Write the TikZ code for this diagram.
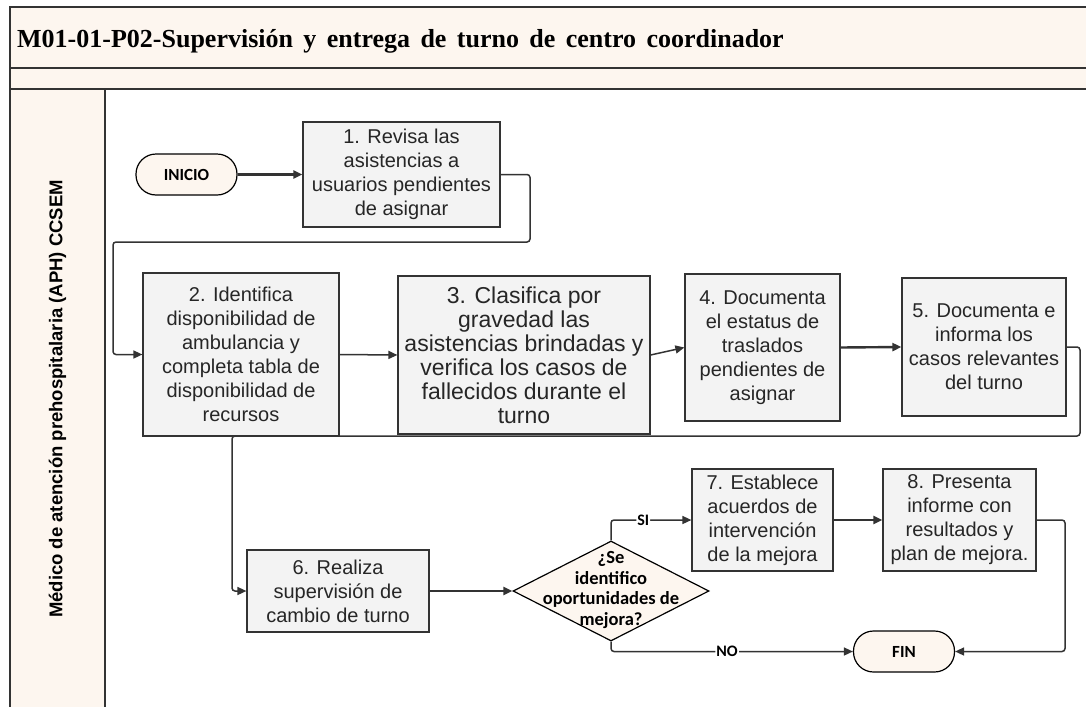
\documentclass[tikz,border=0pt]{standalone}
\usepackage{fontspec}
\setmainfont{Liberation Sans}
\newfontfamily\titlefont[WordSpace=1.6]{Liberation Serif}
\newfontfamily\calib{Carlito}
\usetikzlibrary{arrows.meta,shapes.geometric}
\definecolor{cream}{HTML}{FDF6EF}
\definecolor{boxfill}{HTML}{F3F3F3}
\definecolor{linec}{HTML}{333333}
\begin{document}
\begin{tikzpicture}[x=1pt,y=-1pt,
  stepbox/.style={draw=linec, line width=1.2pt, fill=boxfill, align=center,
    font=\fontsize{20}{24}\selectfont, text=black!85, inner sep=0pt},
  term/.style={draw=black, line width=1.2pt, fill=cream, rounded corners=20pt,
    font=\calib\bfseries\fontsize{17}{18}\selectfont, inner sep=0pt,
    minimum width=101pt, minimum height=41pt},
  conn/.style={draw=linec, line width=1.5pt, -{Triangle[length=9pt,width=8pt]}, rounded corners=3pt},
  thickconn/.style={conn, line width=2.4pt},
  lbl/.style={fill=white, font=\calib\bfseries\fontsize{16}{16}\selectfont, inner sep=1pt},
  frameline/.style={draw=linec, line width=1.2pt}
]
\useasboundingbox (0,0) rectangle (1086,707);
% bands
\fill[cream] (10,7) rectangle (1086,89);
\fill[cream] (10,89) rectangle (105,707);
\draw[frameline] (1086,7) -- (10,7) -- (10,707);
\draw[frameline] (10,68) -- (1086,68);
\draw[frameline] (10,89) -- (1086,89);
\draw[frameline] (105,89) -- (105,707);
\node[anchor=base west, font=\titlefont\bfseries\fontsize{26}{30}\selectfont, inner sep=0pt] (title) at (17,47)
  {M01-01-P02-Supervisión y entrega de turno de centro coordinador};
\node[rotate=90, font=\bfseries\fontsize{18.5}{20}\selectfont, inner sep=0pt] (lane) at (57.5,399)
  {Médico de atención prehospitalaria (APH) CCSEM};
% nodes
\node[term] (inicio) at (186.5,174.5) {INICIO};
\node[stepbox, minimum width=197pt, minimum height=105pt] (b1) at (401.5,174.5)
  {1. Revisa las\\asistencias a\\usuarios pendientes\\de asignar};
\node[stepbox, minimum width=196pt, minimum height=163pt] (b2) at (241,354.5)
  {2. Identifica\\disponibilidad de\\ambulancia y\\completa tabla de\\disponibilidad de\\recursos};
\node[stepbox, minimum width=252pt, minimum height=158pt, font=\fontsize{23}{24}\selectfont] (b3) at (524,355)
  {3. Clasifica por\\gravedad las\\asistencias brindadas y\\verifica los casos de\\fallecidos durante el\\turno};
\node[stepbox, minimum width=155pt, minimum height=147pt] (b4) at (762.5,347.5)
  {4. Documenta\\el estatus de\\traslados\\pendientes de\\asignar};
\node[stepbox, minimum width=164pt, minimum height=138pt] (b5) at (984,347)
  {5. Documenta e\\informa los\\casos relevantes\\del turno};
\node[stepbox, minimum width=182pt, minimum height=82pt] (b6) at (338,591)
  {6. Realiza\\supervisión de\\cambio de turno};
\node[diamond, draw=black, line width=1.2pt, fill=cream, minimum width=196pt, minimum height=100pt, inner sep=0pt] (dia) at (611,591) {};
\node[align=center, font=\calib\bfseries\fontsize{18.5}{20.5}\selectfont, inner sep=0pt] (diatext) at (611,590)
  {¿Se\\identifico\\oportunidades de\\mejora?};
\node[stepbox, minimum width=141pt, minimum height=102pt] (b7) at (762.5,520)
  {7. Establece\\acuerdos de\\intervención\\de la mejora};
\node[stepbox, minimum width=153pt, minimum height=102pt] (b8) at (959.5,520)
  {8. Presenta\\informe con\\resultados y\\plan de mejora.};
\node[term] (fin) at (904,651.5) {FIN};
% connectors
\draw[thickconn] (inicio.east) -- (b1.west);
\draw[conn] (b1.east) -- (530,174.5) -- (530,242) -- (113,242) |- (b2.west);
\draw[conn] (b2.east) -- (b3.west);
\draw[conn] (b3.east) -- (b4.west);
\draw[thickconn] (b4.east) -- (b5.west);
\draw[conn] (b5.east) -- (1080,347) -- (1080,436) -- (232,436) |- (b6.west);
\draw[thickconn] (b6.east) -- (dia.west);
\draw[conn] (dia.north) |- node[lbl, pos=0.7] {SI} (b7.west);
\draw[thickconn] (b7.east) -- (b8.west);
\draw[conn] (b8.east) -- (1065,520) |- (fin.east);
\draw[conn] (dia.south) |- node[lbl, pos=0.74] {NO} (fin.west);
\end{tikzpicture}
\end{document}
